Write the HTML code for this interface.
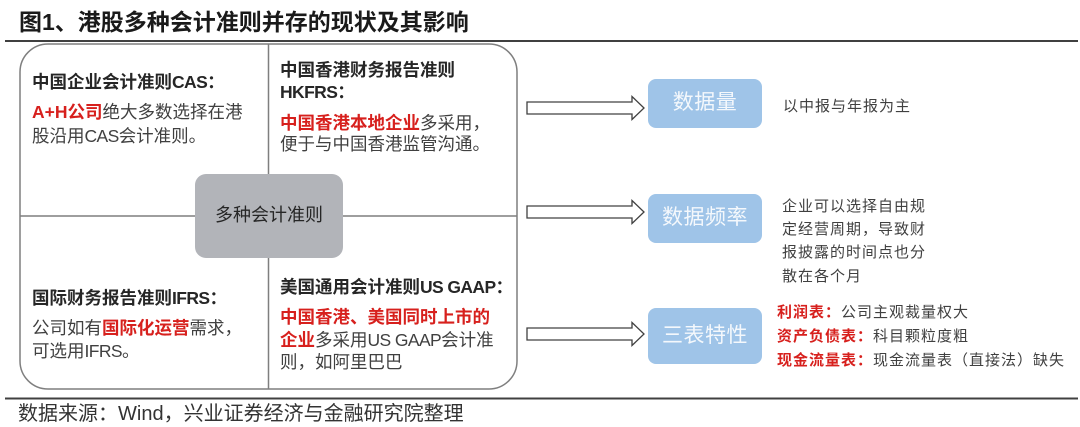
<!DOCTYPE html>
<html><head><meta charset="utf-8">
<style>
html,body{margin:0;padding:0;}
body{width:1080px;height:426px;background:#fff;position:relative;overflow:hidden;font-family:"Liberation Sans","Noto Sans CJK SC",sans-serif;}
.t{position:absolute;white-space:nowrap;line-height:24px;}
.h{font-weight:bold;color:#262626;font-size:17.5px;}
.b{color:#404040;font-size:17.5px;}
.r{color:#d7201d;font-weight:bold;}
.l{letter-spacing:-0.6px;}
.s{font-size:15px;letter-spacing:1px;color:#404040;}
.bx{position:absolute;left:648px;width:114px;text-align:center;color:#f4f8fc;font-size:21px;line-height:30px;letter-spacing:0.5px;}
</style></head><body>
<svg width="1080" height="426" style="position:absolute;left:0;top:0">
 <line x1="5" y1="41" x2="1078" y2="41" stroke="#404040" stroke-width="2"/>
 <line x1="5" y1="398.5" x2="1078" y2="398.5" stroke="#404040" stroke-width="2"/>
 <rect x="20" y="44" width="497" height="345" rx="28" ry="28" fill="none" stroke="#7f7f7f" stroke-width="1.5"/>
 <line x1="268.5" y1="44" x2="268.5" y2="389" stroke="#7f7f7f" stroke-width="1.5"/>
 <line x1="20" y1="216" x2="517" y2="216" stroke="#7f7f7f" stroke-width="1.5"/>
 <rect x="195" y="174" width="148" height="84" rx="11" ry="11" fill="#b2b4b9"/>
 <path d="M527,102 H632 V96.5 L644,108 L632,119.5 V114 H527 Z" fill="#fff" stroke="#404040" stroke-width="1.3"/>
 <path d="M527,206 H632 V200.5 L644,212 L632,223.5 V218 H527 Z" fill="#fff" stroke="#404040" stroke-width="1.3"/>
 <path d="M527,328 H632 V322.5 L644,334 L632,345.5 V340 H527 Z" fill="#fff" stroke="#404040" stroke-width="1.3"/>
 <rect x="648" y="79" width="114" height="49" rx="8" ry="8" fill="#9fc4e8"/>
 <rect x="648" y="194" width="114" height="49" rx="8" ry="8" fill="#9fc4e8"/>
 <rect x="648" y="308" width="114" height="56" rx="8" ry="8" fill="#9fc4e8"/>
</svg>

<div class="t" style="left:19px;top:7px;line-height:30px;font-size:23px;font-weight:bold;color:#1a1a1a;">图1、港股多种会计准则并存的现状及其影响</div>

<div class="t h" style="left:32px;top:70px;">中国企业会计准则<span class="l">CAS</span>：</div>
<div class="t b" style="left:32px;top:100px;"><span class="r">A+H公司</span>绝大多数选择在港</div>
<div class="t b" style="left:32px;top:124px;">股沿用<span class="l">CAS</span>会计准则。</div>

<div class="t h" style="left:280px;top:58px;">中国香港财务报告准则</div>
<div class="t h" style="left:280px;top:80px;"><span class="l">HKFRS</span>：</div>
<div class="t b" style="left:280px;top:111px;"><span class="r">中国香港本地企业</span>多采用，</div>
<div class="t b" style="left:280px;top:131.5px;">便于与中国香港监管沟通。</div>

<div class="t" style="left:195px;top:203px;width:148px;text-align:center;font-size:18px;color:#262626;">多种会计准则</div>

<div class="t h" style="left:32px;top:286px;">国际财务报告准则<span class="l">IFRS</span>：</div>
<div class="t b" style="left:32px;top:316px;">公司如有<span class="r">国际化运营</span>需求，</div>
<div class="t b" style="left:32px;top:339px;">可选用<span class="l">IFRS</span>。</div>

<div class="t h" style="left:280px;top:275px;">美国通用会计准则<span class="l">US GAAP</span>：</div>
<div class="t b" style="left:280px;top:305px;"><span class="r">中国香港、美国同时上市的</span></div>
<div class="t b" style="left:280px;top:327.5px;"><span class="r">企业</span>多采用<span class="l">US GAAP</span>会计准</div>
<div class="t b" style="left:280px;top:350px;">则，如阿里巴巴</div>

<div class="bx" style="top:88px;">数据量</div>
<div class="bx" style="top:203px;">数据频率</div>
<div class="bx" style="top:321px;">三表特性</div>

<div class="t s" style="left:783px;top:95px;">以中报与年报为主</div>

<div class="t s" style="left:782px;top:195px;">企业可以选择自由规</div>
<div class="t s" style="left:782px;top:218px;">定经营周期，导致财</div>
<div class="t s" style="left:782px;top:241px;">报披露的时间点也分</div>
<div class="t s" style="left:782px;top:265px;">散在各个月</div>

<div class="t s" style="left:777px;top:301px;"><span class="r">利润表：</span>公司主观裁量权大</div>
<div class="t s" style="left:777px;top:325px;"><span class="r">资产负债表：</span>科目颗粒度粗</div>
<div class="t s" style="left:777px;top:349px;"><span class="r">现金流量表：</span>现金流量表（直接法）缺失</div>

<div class="t" style="left:18px;top:401px;line-height:26px;font-size:20px;color:#333;">数据来源：Wind，兴业证券经济与金融研究院整理</div>
</body></html>
